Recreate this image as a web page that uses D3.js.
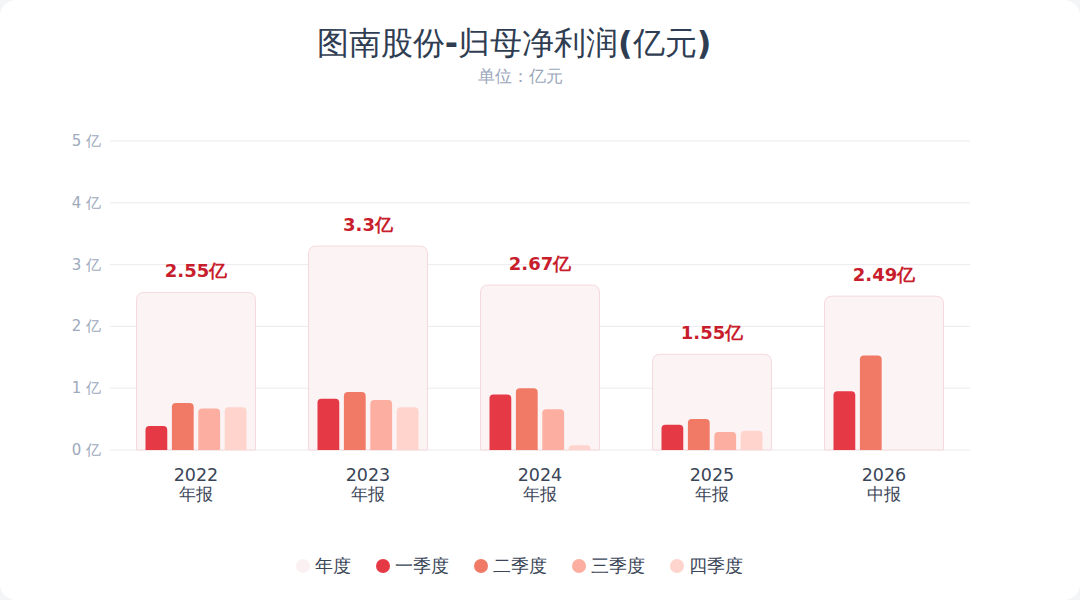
<!DOCTYPE html>
<html><head><meta charset="utf-8">
<script src="https://cdn.jsdelivr.net/npm/d3@7/dist/d3.min.js"></script>
<style>
html,body{margin:0;padding:0;background:#f4f5f7;}
svg{display:block;font-family:"DejaVu Sans",sans-serif;}
</style></head>
<body>
<svg id="c" width="1080" height="600"></svg>
<script>
const categories = ["2022","2023","2024","2025","2026"];
const periodLabels = ["年报","年报","年报","年报","中报"];
const annual = [2.55, 3.3, 2.67, 1.55, 2.49];
const q1 = [0.39, 0.83, 0.90, 0.41, 0.95];
const q2 = [0.76, 0.94, 1.00, 0.50, 1.53];
const q3 = [0.67, 0.81, 0.66, 0.29, null];
const q4 = [0.69, 0.69, 0.075, 0.31, null];
const seriesNames = ["年度","一季度","二季度","三季度","四季度"];
const yTicks = [0,1,2,3,4,5];
const titleText = "图南股份-归母净利润(亿元)";
const subtitleText = "单位：亿元";

const colors = ["#fbf1f2","#e63946","#f07a66","#fcaea0","#fed4cc"];
const W=1080,H=600;
const svg=d3.select("#c");
svg.append("rect").attr("x",0).attr("y",0).attr("width",W).attr("height",H).attr("rx",16).attr("fill","#ffffff");

const x=d3.scaleBand().domain(categories).range([110,970]).padding(0);
const y=d3.scaleLinear().domain([0,5]).range([450,141]);

// title: ASCII parts bold, CJK parts regular
const title=svg.append("text").attr("x",514).attr("y",54).attr("text-anchor","middle")
  .attr("font-size",32).attr("fill","#2f3d52");
titleText.match(/[\x00-\x7f]+|[^\x00-\x7f]+/g).forEach(part=>{
  title.append("tspan").attr("font-weight",/[\x00-\x7f]/.test(part)?"bold":"normal").text(part);
});
svg.append("text").attr("x",520).attr("y",82).attr("text-anchor","middle")
  .attr("font-size",17).attr("fill","#9aa6ba").text(subtitleText);

// grid
const g=svg.append("g");
g.selectAll("line.grid").data(yTicks).join("line").attr("class","grid")
  .attr("x1",110).attr("x2",970).attr("y1",d=>y(d)).attr("y2",d=>y(d))
  .attr("stroke","#ebebf0").attr("stroke-width",1);
g.selectAll("text.yt").data(yTicks).join("text").attr("class","yt")
  .attr("x",101).attr("y",d=>y(d)+5).attr("text-anchor","end")
  .attr("font-size",15).attr("fill","#9ea9bc").text(d=>d+" 亿");

const boxW = x.bandwidth()*0.692;
const inner = d3.scaleBand().domain([0,1,2,3]).paddingInner(0.175).paddingOuter(0);

function topRounded(x0,y0,w,h,r){
  r=Math.min(r,h,w/2);
  return `M${x0},${y0+h}V${y0+r}Q${x0},${y0} ${x0+r},${y0}H${x0+w-r}Q${x0+w},${y0} ${x0+w},${y0+r}V${y0+h}Z`;
}

categories.forEach((c,i)=>{
  const cx=x(c)+x.bandwidth()/2;
  const bx=cx-boxW/2;
  svg.append("path").attr("d",topRounded(bx,y(annual[i]),boxW,y(0)-y(annual[i]),8))
    .attr("fill","#fbf3f4").attr("stroke","#f6d9de").attr("stroke-width",1);
  svg.append("text").attr("x",cx).attr("y",y(annual[i])-15).attr("text-anchor","middle")
    .attr("font-size",18).attr("font-weight","bold").attr("fill","#c81d2c").text(annual[i]+"亿");
  inner.range([bx+9, bx+boxW-9]);
  const qs=[q1[i],q2[i],q3[i],q4[i]];
  qs.forEach((v,k)=>{
    if(v==null) return;
    svg.append("path").attr("d",topRounded(inner(k),y(v),inner.bandwidth(),y(0)-y(v),4))
      .attr("fill",colors[k+1]);
  });
  svg.append("text").attr("x",cx).attr("y",481).attr("text-anchor","middle")
    .attr("font-size",17.5).attr("fill","#3a4558").text(c);
  svg.append("text").attr("x",cx).attr("y",500).attr("text-anchor","middle")
    .attr("font-size",17).attr("fill","#3a4558").text(periodLabels[i]);
});

// legend
const legX=[303,383,481,579,677];
seriesNames.forEach((n,k)=>{
  svg.append("circle").attr("cx",legX[k]).attr("cy",566).attr("r",7).attr("fill",colors[k]);
  svg.append("text").attr("x",legX[k]+12).attr("y",572).attr("font-size",18).attr("fill","#3a4558").text(n);
});
</script>
</body></html>
